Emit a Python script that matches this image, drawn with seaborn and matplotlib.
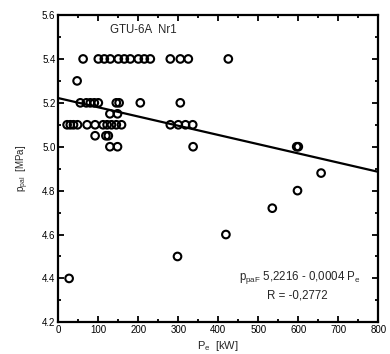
import matplotlib
matplotlib.use("Agg")
import matplotlib.pyplot as plt
import seaborn as sns
import pandas as pd
import numpy as np
from matplotlib.ticker import MultipleLocator

# Data
p_e = [62, 100, 115, 130, 150, 165, 180, 200, 215, 230, 280, 305, 325, 425,
       47,
       55, 70, 80, 90, 100, 145, 152, 205, 305,
       129, 148,
       22, 30, 38, 48, 72, 92, 112, 122, 133, 145, 158, 280, 300, 318, 336,
       92, 119, 125,
       129, 148, 337,
       596, 600, 657, 598, 535, 419, 27, 298]
p_pal = [5.4] * 14 + [5.3] + [5.2] * 9 + [5.15] * 2 + [5.1] * 15 + [5.05] * 3 + \
        [5.0] * 3 + [5.0, 5.0, 4.88, 4.8, 4.72, 4.6, 4.4, 4.5]

intercept = 5.2216
slope = -0.00042
line_x = [0, 800]

title_text = "GTU-6A  Nr1"
x_label = "P$_{\\rm e}$  [kW]"
y_label = "p$_{\\rm pal}$  [MPa]"
eq_text = "p$_{\\rm paF}$ 5,2216 - 0,0004 P$_{\\rm e}$"
r_text = "R = -0,2772"

sns.set_theme(style="ticks")
plt.rcParams['font.family'] = ['Liberation Sans', 'DejaVu Sans']
plt.rcParams['mathtext.fontset'] = 'custom'
plt.rcParams['mathtext.rm'] = 'Liberation Sans'

fig = plt.figure(figsize=(3.9, 3.54), dpi=100)
ax = fig.add_axes([0.1495, 0.0895, 0.8205, 0.868])

df = pd.DataFrame({"P_e": p_e, "p_pal": p_pal})
sns.scatterplot(data=df, x="P_e", y="p_pal", ax=ax, s=30, marker="o",
                facecolors="none", edgecolor="black", linewidth=1.5, zorder=3)

line_df = pd.DataFrame({"x": line_x, "y": [intercept + slope * v for v in line_x]})
sns.lineplot(data=line_df, x="x", y="y", ax=ax, color="black", linewidth=1.6, zorder=2)

ax.set_xlim(0, 800)
ax.set_ylim(4.2, 5.6)
ax.xaxis.set_major_locator(MultipleLocator(100))
ax.xaxis.set_minor_locator(MultipleLocator(50))
ax.yaxis.set_major_locator(MultipleLocator(0.2))
ax.yaxis.set_minor_locator(MultipleLocator(0.1))
ax.yaxis.set_major_formatter(matplotlib.ticker.FormatStrFormatter('%.1f'))
ax.tick_params(which="both", direction="in", top=True, right=True,
               labelsize=7, width=1.3, colors="black", pad=2)
ax.tick_params(which="major", length=4)
ax.tick_params(which="minor", length=2.5)
for sp in ax.spines.values():
    sp.set_linewidth(1.6)
    sp.set_color("black")

ax.set_xlabel(x_label, fontsize=8, labelpad=3)
ax.set_ylabel(y_label, fontsize=7, labelpad=8)

ax.text(130, 5.53, title_text, fontsize=8.3, ha="left", va="center")
ax.text(603, 4.405, eq_text, fontsize=8.3, ha="center", va="center")
ax.text(598, 4.323, r_text, fontsize=8.3, ha="center", va="center")

fig.savefig("out.png", dpi=100)
